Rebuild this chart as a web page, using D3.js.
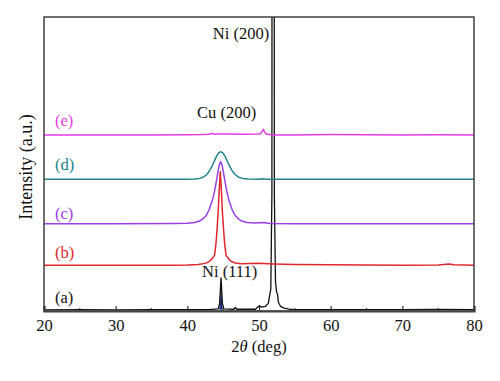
<!DOCTYPE html>
<html><head><meta charset="utf-8">
<script src="https://cdn.jsdelivr.net/npm/d3@7"></script>
<style>body{margin:0;background:#fff}svg{display:block}text{font-family:"Liberation Serif","Times New Roman",serif}</style>
</head><body><svg id="c" width="500" height="381"></svg>
<script>
// ---- data (2θ in deg, intensity in a.u.) ----
const xTicks = [20,30,40,50,60,70,80];
const xMinor = [25,35,45,55,65,75];
const seriesNames = ["(a)","(b)","(c)","(d)","(e)"];
const seriesColors = ["#111111","#e0282c","#9a40e8","#22858a","#e63be6"];
const curveA = [[20,0.4],[25,0.5],[30,0.4],[35,0.5],[40,0.45],[43,0.5],[44.3,0.7],[44.5,2.5],[44.6,7],[44.7,11.3],[44.8,7],[44.9,2.5],[45.1,0.7],[46.5,0.6],[46.7,1.2],[46.9,0.6],[49.5,0.6],[49.9,1.5],[50.1,1.8],[50.3,1.3],[50.9,1.6],[51.3,2.6],[51.5,5.5],[51.65,7.5],[51.8,40],[51.83,200],[52.11,200],[52.14,40],[52.3,10],[52.45,6.5],[52.6,5.5],[52.7,3.0],[53.0,1.6],[53.5,1.0],[54.2,0.6],[55,0.5],[60,0.45],[65,0.5],[70,0.45],[75,0.55],[80,0.45]];
const peakA = [[44.45,0.7],[44.55,2.5],[44.63,7],[44.7,11.3],[44.77,7],[44.85,2.5],[44.95,0.7]];
const curveB = [[20,15.6],[30,15.6],[38,15.6],[40,15.65],[41.5,15.8],[42.5,16.2],[43.1,16.9],[43.5,17.9],[43.8,19.0],[43.95,22.0],[44.05,24.5],[44.15,28.0],[44.3,33.5],[44.45,41],[44.6,47.4],[44.75,41],[44.9,33.5],[45.05,28.0],[45.15,24.5],[45.25,22.0],[45.4,19.0],[45.7,17.9],[46.1,16.9],[46.7,16.3],[47.5,16.1],[50,16.2],[52,16.0],[55,15.85],[60,15.7],[65,15.65],[70,15.6],[75,15.65],[76.5,15.95],[77.2,15.7],[80,15.6]];
const curveC = [[20,29.7],[30,29.7],[38,29.75],[40,29.85],[41,30.1],[41.7,30.6],[42.2,31.4],[42.65,32.6],[43.05,34.5],[43.45,37.3],[43.75,40.2],[44.05,44.1],[44.25,47.0],[44.45,49.6],[44.65,50.8],[44.85,49.6],[45.05,47.0],[45.25,44.1],[45.55,40.2],[45.85,37.3],[46.25,34.5],[46.65,32.6],[47.1,31.4],[47.6,30.6],[48.3,30.1],[49.5,29.9],[50.5,30.1],[51.5,29.8],[55,29.7],[60,29.7],[70,29.7],[80,29.7]];
const curveD = [[20,44.8],[30,44.8],[38,44.8],[40,44.85],[41,44.9],[41.7,45.1],[42.2,45.5],[42.7,46.4],[43.1,47.7],[43.45,49.3],[43.75,50.9],[44.05,52.5],[44.35,53.7],[44.65,54.2],[44.95,53.8],[45.25,52.7],[45.55,51.1],[45.85,49.5],[46.2,47.9],[46.6,46.6],[47.1,45.6],[47.7,45.1],[48.5,44.9],[50,44.85],[50.5,45.0],[51,44.85],[55,44.8],[60,44.8],[70,44.8],[80,44.8]];
const curveE = [[20,59.9],[25,59.9],[30,59.9],[35,59.9],[40,59.95],[42,60.0],[43,60.1],[43.4,60.4],[43.7,60.15],[44.5,60.2],[46,60.2],[48,60.15],[49.5,60.2],[50.2,60.3],[50.45,61.2],[50.6,61.8],[50.75,61.0],[51.0,60.2],[52,59.9],[55,59.9],[60,60.0],[65,59.95],[70,59.9],[75,59.95],[80,59.9]];
const curves = [curveA, curveB, curveC, curveD, curveE];
const labelLevels = [2.7, 18.0, 31.3, 48.1, 62.8]; // label baselines (a)-(e), in intensity units
const peakLabels = [{t:"Ni (200)",x:43.55,y:92.5},{t:"Cu (200)",x:41.35,y:65.6},{t:"Ni (111)",x:42.05,y:11.7}];

// ---- layout ----
const M = {l:44, r:474, t:17, b:311};
const svg = d3.select("#c");
const x = d3.scaleLinear().domain([20,80]).range([M.l, M.r]);
const y = d3.scaleLinear().domain([0,100]).range([M.b, M.t]);

svg.append("clipPath").attr("id","clip").append("rect")
  .attr("x",M.l).attr("y",M.t).attr("width",M.r-M.l).attr("height",M.b-M.t);

const line = d3.line().x(d=>x(d[0])).y(d=>y(d[1]));
const g = svg.append("g").attr("clip-path","url(#clip)");

// navy core of Ni(111) peak
g.append("path")
  .attr("d", d3.area().x(d=>x(d[0])).y0(y(0.4)).y1(d=>y(d[1]))(peakA))
  .attr("fill","#1c2f7a");

curves.forEach((c,i)=>{
  g.append("path").datum(c).attr("d",line).attr("fill","none")
    .attr("stroke",seriesColors[i]).attr("stroke-width",i===0?1.3:1.5)
    .attr("stroke-linejoin","round");
});

// frame
svg.append("rect").attr("x",M.l).attr("y",M.t).attr("width",M.r-M.l).attr("height",M.b-M.t)
  .attr("fill","none").attr("stroke","#333").attr("stroke-width",1.4);

// bottom axis
const ax = svg.append("g").attr("transform",`translate(0,${M.b})`)
  .call(d3.axisBottom(x).tickValues(xTicks).tickSize(-5).tickPadding(0).tickFormat(d3.format("d")));
ax.select(".domain").attr("stroke","#444").attr("stroke-width",2.2);
ax.selectAll(".tick line").attr("stroke","#333").attr("stroke-width",1.2);
ax.selectAll(".tick text").attr("font-size",16.5).attr("fill","#111").attr("y",20).attr("dy",0)
  .attr("font-family","Liberation Serif, serif");
svg.append("g").selectAll("line").data(xMinor).join("line")
  .attr("x1",d=>x(d)).attr("x2",d=>x(d)).attr("y1",M.b).attr("y2",M.b-3)
  .attr("stroke","#333").attr("stroke-width",1.1);

// axis titles
const xt = svg.append("text").attr("x",259).attr("y",352).attr("text-anchor","middle")
  .attr("font-size",16.5).attr("fill","#111");
xt.append("tspan").text("2");
xt.append("tspan").attr("font-style","italic").text("θ");
xt.append("tspan").text(" (deg)");
svg.append("text").attr("transform","translate(32,167) rotate(-90)").attr("text-anchor","middle")
  .attr("font-size",18).attr("fill","#111").text("Intensity (a.u.)");

// series labels
seriesNames.forEach((n,i)=>{
  svg.append("text").attr("x",55).attr("y",y(labelLevels[i])).attr("font-size",16.5)
    .attr("fill",seriesColors[i]).text(n);
});
// peak labels
peakLabels.forEach(p=>{
  svg.append("text").attr("x",x(p.x)).attr("y",y(p.y)).attr("font-size",16.5)
    .attr("fill","#111").text(p.t);
});
</script></body></html>
